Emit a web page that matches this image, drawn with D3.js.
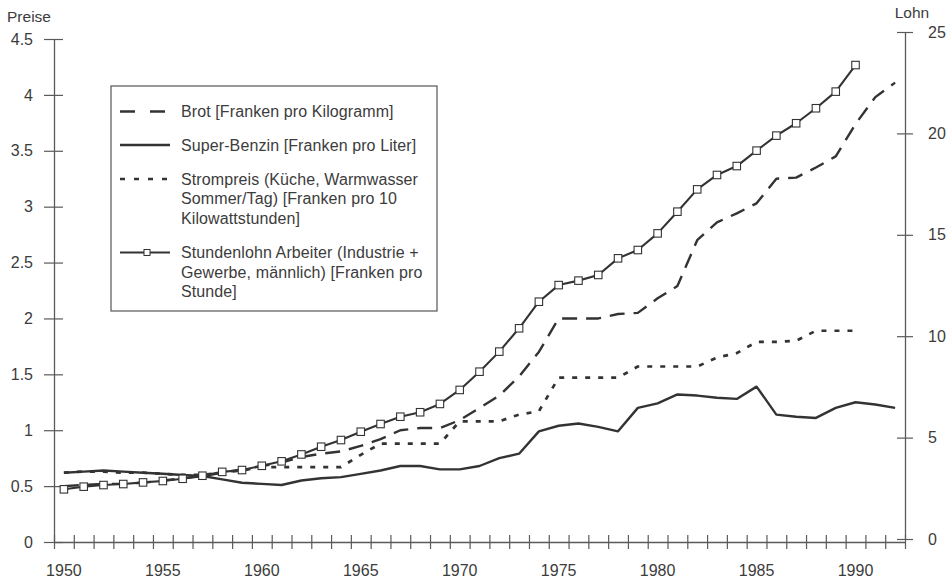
<!DOCTYPE html>
<html>
<head>
<meta charset="utf-8">
<script src="https://cdn.jsdelivr.net/npm/d3@7"></script>
<style>
  html, body { margin: 0; padding: 0; background: #fff; }
  svg { display: block; font-family: "Liberation Sans", Arial, Helvetica, sans-serif; }
</style>
</head>
<body>
<svg id="chart" width="952" height="580"></svg>
<script>
const years = d3.range(1950, 1993);

const brot = [0.50,0.51,0.52,0.52,0.53,0.55,0.57,0.59,0.62,0.65,
  0.68,0.71,0.76,0.79,0.81,0.86,0.92,1.00,1.02,1.02,
  1.09,1.20,1.31,1.48,1.70,2.00,2.00,2.00,2.04,2.05,
  2.18,2.29,2.70,2.86,2.94,3.03,3.25,3.26,3.35,3.45,
  3.74,3.98,4.11];

const benzin = [0.62,0.63,0.64,0.63,0.62,0.61,0.60,0.59,0.56,0.53,
  0.52,0.51,0.55,0.57,0.58,0.61,0.64,0.68,0.68,0.65,
  0.65,0.68,0.75,0.79,0.99,1.04,1.06,1.03,0.99,1.20,
  1.24,1.32,1.31,1.29,1.28,1.39,1.14,1.12,1.11,1.20,
  1.25,1.23,1.20];

const strom = [0.62,0.63,0.63,0.62,0.62,0.61,0.60,0.60,0.62,0.64,
  0.67,0.67,0.67,0.67,0.67,0.78,0.88,0.88,0.88,0.88,
  1.08,1.08,1.08,1.14,1.17,1.47,1.47,1.47,1.47,1.57,
  1.57,1.57,1.57,1.65,1.69,1.79,1.79,1.80,1.89,1.89,
  1.89];

const lohn = [2.45,2.58,2.66,2.71,2.79,2.86,2.97,3.12,3.31,3.40,
  3.61,3.83,4.17,4.55,4.88,5.29,5.67,6.03,6.25,6.66,
  7.35,8.25,9.24,10.39,11.70,12.52,12.74,13.02,13.84,14.25,
  15.07,16.14,17.24,17.95,18.39,19.15,19.89,20.50,21.24,22.06,
  23.37];

const leftTicks = [0,0.5,1,1.5,2,2.5,3,3.5,4,4.5];
const rightTicks = [0,5,10,15,20,25];
const yearLabels = [1950,1955,1960,1965,1970,1975,1980,1985,1990];

const legendItems = [
  {key: "brot", lines: ["Brot [Franken pro Kilogramm]"]},
  {key: "benzin", lines: ["Super-Benzin [Franken pro Liter]"]},
  {key: "strom", lines: ["Strompreis (Küche, Warmwasser", "Sommer/Tag) [Franken pro 10", "Kilowattstunden]"]},
  {key: "lohn", lines: ["Stundenlohn Arbeiter (Industrie +", "Gewerbe, männlich) [Franken pro", "Stunde]"]}
];

const ink = "#333333";
const axisCol = "#5a5a5a";
const textCol = "#3c3c3c";

const styles = {
  brot:   {dash: "15,9", width: 2.4},
  benzin: {dash: null, width: 2.4},
  strom:  {dash: "5,8", width: 2.7},
  lohn:   {dash: null, width: 2.1}
};

const svg = d3.select("#chart");

const x = d3.scaleBand().domain(years).range([54, 905]).paddingInner(0).paddingOuter(0);
const xIdx = d3.scaleLinear().domain([0, years.length]).range([54, 905]);
const yL = d3.scaleLinear().domain([0, 4.5]).range([542, 39]);
const yR = d3.scaleLinear().domain([0, 25]).range([539, 32]);
const cx = d => x(d) + x.bandwidth() / 2;

const fontFam = '"Liberation Sans", Arial, sans-serif';
const axisBase = 542;

// x-axis band ticks
const gxt = svg.append("g").attr("transform", `translate(0,${axisBase})`)
  .call(d3.axisBottom(xIdx).tickValues(d3.range(0, years.length + 1)).tickFormat("").tickSizeOuter(0));
gxt.select(".domain").attr("stroke", axisCol).attr("stroke-width", 1.3);
gxt.selectAll(".tick line").attr("stroke", axisCol).attr("stroke-width", 1.2).attr("y1", -7).attr("y2", 7);

// x-axis labels
const gxl = svg.append("g").attr("transform", `translate(0,${axisBase})`)
  .call(d3.axisBottom(x).tickValues(yearLabels).tickSize(0).tickPadding(23));
gxl.select(".domain").remove();
gxl.selectAll("text").attr("fill", textCol).style("font-size", "16px").style("font-family", fontFam);

// left axis
const gl = svg.append("g").attr("transform", "translate(54,0)")
  .call(d3.axisLeft(yL).tickValues(leftTicks).tickFormat(d => String(d)).tickSizeOuter(0).tickPadding(15));
gl.select(".domain").attr("stroke", axisCol).attr("stroke-width", 1.3);
gl.selectAll(".tick line").attr("stroke", axisCol).attr("stroke-width", 1.2).attr("x1", -10).attr("x2", 9);
gl.selectAll("text").attr("fill", textCol).style("font-size", "16px").style("font-family", fontFam);

// right axis
const gr = svg.append("g").attr("transform", "translate(905,0)")
  .call(d3.axisRight(yR).tickValues(rightTicks).tickSizeOuter(0).tickPadding(17));
gr.select(".domain").attr("stroke", axisCol).attr("stroke-width", 1.3);
gr.selectAll(".tick line").attr("stroke", axisCol).attr("stroke-width", 1.2).attr("x1", -8).attr("x2", 8);
gr.selectAll("text").attr("fill", textCol).style("font-size", "16px").style("font-family", fontFam);

// axis titles
svg.append("text").attr("x", 29).attr("y", 22).attr("text-anchor", "middle")
  .attr("fill", textCol).style("font-size", "15.5px").text("Preise");
svg.append("text").attr("x", 912).attr("y", 18).attr("text-anchor", "middle")
  .attr("fill", textCol).style("font-size", "15.5px").text("Lohn");

// ---- Lines ----
function drawSeries(values, yScale, st) {
  const data = values.map((v, i) => ({year: years[i], v}));
  const line = d3.line().x(d => cx(d.year)).y(d => yScale(d.v));
  const p = svg.append("path").datum(data).attr("d", line)
    .attr("fill", "none").attr("stroke", ink).attr("stroke-width", st.width)
    .attr("stroke-linejoin", "round");
  if (st.dash) p.attr("stroke-dasharray", st.dash);
  return data;
}

drawSeries(benzin, yL, styles.benzin);
drawSeries(strom, yL, styles.strom);
drawSeries(brot, yL, styles.brot);
const lohnData = drawSeries(lohn, yR, styles.lohn);

svg.append("g").selectAll("rect").data(lohnData).join("rect")
  .attr("x", d => cx(d.year) - 3.75).attr("y", d => yR(d.v) - 3.75)
  .attr("width", 7.5).attr("height", 7.5)
  .attr("fill", "#fff").attr("stroke", ink).attr("stroke-width", 1.1);

// ---- Legend ----
const lg = svg.append("g");
lg.append("rect").attr("x", 111).attr("y", 86).attr("width", 326).attr("height", 225)
  .attr("fill", "#fff").attr("stroke", "#555").attr("stroke-width", 1.2);

const rowY = {brot: 111.5, benzin: 145, strom: 179, lohn: 252.5};
const lineH = 19.6;

legendItems.forEach(item => {
  const y0 = rowY[item.key];
  const st = styles[item.key];
  const l = lg.append("line").attr("x1", 120).attr("x2", 170).attr("y1", y0).attr("y2", y0)
    .attr("stroke", ink).attr("stroke-width", st.width);
  if (item.key === "brot") l.attr("stroke-dasharray", "15,15");
  if (item.key === "strom") l.attr("stroke-dasharray", "5,9");
  if (item.key === "lohn") {
    lg.append("rect").attr("x", 144).attr("y", y0 - 3).attr("width", 6).attr("height", 6)
      .attr("fill", "#fff").attr("stroke", ink).attr("stroke-width", 1);
  }
  item.lines.forEach((t, j) => {
    lg.append("text").attr("x", 181).attr("y", y0 + j * lineH + 5.5)
      .attr("fill", textCol).style("font-size", "16px").style("letter-spacing", "0.1px").text(t);
  });
});
</script>
</body>
</html>
